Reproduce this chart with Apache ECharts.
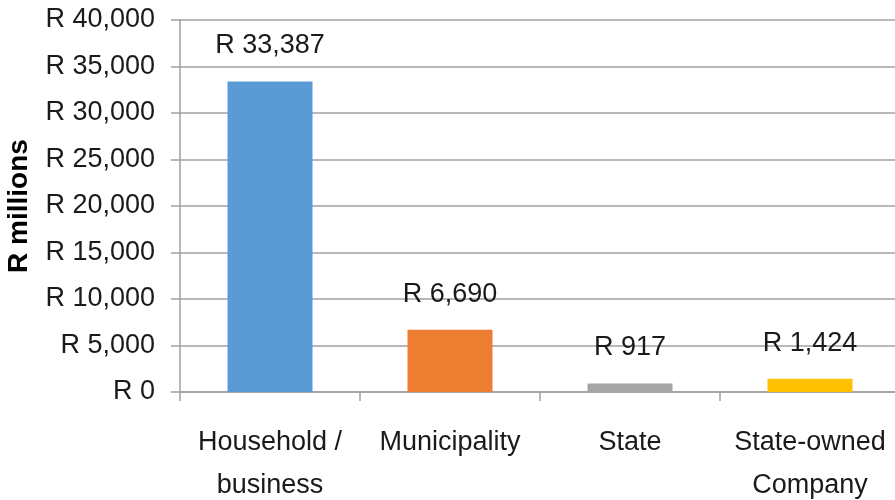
<!DOCTYPE html>
<html>
<head>
<meta charset="utf-8">
<script src="https://cdn.jsdelivr.net/npm/echarts@6/dist/echarts.min.js"></script>
<style>html,body{margin:0;padding:0;background:#fff}#c{width:895px;height:500px}</style>
</head>
<body>
<div id="c"></div>
<script>
var categories = ['Household /\nbusiness', 'Municipality', 'State', 'State-owned\nCompany'];
var values = [33387, 6690, 917, 1424];
var colors = ['#5B9BD5', '#ED7D31', '#A5A5A5', '#FFC000'];
var yTicks = { min: 0, max: 40000, interval: 5000 };
var yName = 'R millions';

function fmt(v) { return 'R ' + Number(v).toLocaleString('en-US'); }
var FONT = "'Liberation Sans', Arial, sans-serif";
var chart = echarts.init(document.getElementById('c'), null, { renderer: 'canvas' });
chart.setOption({
  animation: false,
  grid: { left: 180, top: 20, width: 720, height: 372, containLabel: false, outerBoundsMode: 'none' },
  xAxis: {
    type: 'category',
    data: categories,
    axisLine: { lineStyle: { color: '#a0a0a0', width: 1.5 } },
    axisTick: { show: true, length: 9, alignWithLabel: false, lineStyle: { color: '#a0a0a0', width: 1.5 } },
    axisLabel: { color: '#1a1a1a', fontFamily: FONT, fontSize: 27, margin: 29, lineHeight: 43, interval: 0 }
  },
  yAxis: {
    type: 'value',
    min: yTicks.min, max: yTicks.max, interval: yTicks.interval,
    name: yName,
    nameLocation: 'middle',
    nameGap: 147,
    nameTextStyle: { color: '#000', fontFamily: FONT, fontSize: 28, fontWeight: 'bold' },
    axisLine: { show: true, lineStyle: { color: '#a0a0a0', width: 1.5 } },
    axisTick: { show: true, length: 9, lineStyle: { color: '#a0a0a0', width: 1.5 } },
    splitLine: { lineStyle: { color: '#a0a0a0', width: 1.5 } },
    axisLabel: { color: '#1a1a1a', fontFamily: FONT, fontSize: 27, margin: 25, formatter: fmt }
  },
  series: [{
    type: 'bar',
    barWidth: 85,
    data: values.map(function (v, i) { return { value: v, itemStyle: { color: colors[i] } }; }),
    label: { show: true, position: 'top', distance: 22, color: '#1a1a1a', fontFamily: FONT, fontSize: 27, formatter: function (p) { return fmt(p.value); } }
  }]
});
</script>
</body>
</html>
